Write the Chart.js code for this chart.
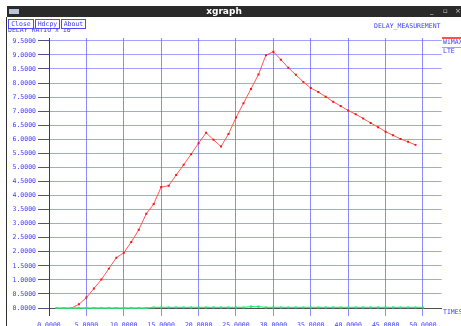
<!DOCTYPE html>
<html>
<head>
<meta charset="utf-8">
<script src="https://cdn.jsdelivr.net/npm/chart.js@4.4.1/dist/chart.umd.min.js"></script>
<style>
  html, body { margin: 0; padding: 0; background: #ffffff; width: 461px; height: 326px; overflow: hidden; }
  #wrap { position: relative; width: 461px; height: 326px; }
  #c { position: absolute; left: 0; top: 0; }
  .abs { position: absolute; white-space: nowrap; }
  .mono { font-family: "DejaVu Sans Mono", monospace; font-size: 6.5px; line-height: 7px; color: #3c3cff; }
  #titlebar { left: 7px; top: 6px; width: 454px; height: 11px; background: #2a2a2a; }
  #titletext { left: 0; width: 454px; top: 0; height: 11px; text-align: center; color: #ffffff;
               font-family: "DejaVu Sans", sans-serif; font-weight: bold; font-size: 9px; line-height: 11px; padding-right: 20px; box-sizing: border-box; }
  #icon { left: 2px; top: 3px; width: 10px; height: 5px; background: #b8c4d8; }
  .ctl { color: #d0d0d0; font-family: "DejaVu Sans", sans-serif; font-size: 7px; line-height: 11px; top: 0; }
  #leftborder { left: 6px; top: 17px; width: 1px; height: 309px; background: #303030; }
  .btn { top: 19px; height: 10px; border: 1px solid #4a4aff; background: #ffffff; box-sizing: border-box;
         text-align: center; z-index: 3; }
  .btn span { display: block; line-height: 8px; }
</style>
</head>
<body>
<div id="wrap">
  <canvas id="c" width="461" height="326"></canvas>
  <div id="leftborder" class="abs"></div>
  <div id="titlebar" class="abs">
    <div id="icon" class="abs"></div>
    <div id="titletext" class="abs">xgraph</div>
    <div class="abs ctl" style="left:423px;">_</div>
    <div class="abs ctl" style="left:436px;">▫</div>
    <div class="abs ctl" style="left:448px;">×</div>
  </div>
  <div class="abs mono" style="left:8px; top:27px; z-index:1;">DELAY RATIO x 10^</div>
  <div class="abs btn mono" style="left:8px; width:26px;"><span>Close</span></div>
  <div class="abs btn mono" style="left:35px; width:25px;"><span>Hdcpy</span></div>
  <div class="abs btn mono" style="left:61px; width:25px;"><span>About</span></div>
  <div class="abs mono" style="left:374px; top:23px;">DELAY_MEASUREMENT</div>
  <div class="abs" style="left:442px; top:37px; width:19px; height:2px; background:#ff5050;"></div>
  <div class="abs mono" style="left:443px; top:39px;">WiMAX</div>
  <div class="abs" style="left:442px; top:47px; width:19px; height:1px; background:#30f080;"></div>
  <div class="abs mono" style="left:443px; top:48px;">LTE</div>
  <div class="abs mono" style="left:443px; top:309px;">TIMES</div>
</div>
<script>
// ---- data ----
const wimaxX = [3,4,5,6,7,8,9,10,11,12,13,14,15,16,17,18,19,20,21,22,23,24,25,26,27,28,29,30,31,32,33,34,35,36,37,38,39,40,41,42,43,44,45,46,47,48,49];
const wimaxY = [0,0.13,0.37,0.69,1.01,1.40,1.79,1.96,2.35,2.78,3.35,3.70,4.30,4.35,4.73,5.09,5.47,5.86,6.23,5.98,5.74,6.19,6.77,7.28,7.79,8.30,8.99,9.11,8.83,8.54,8.29,8.04,7.82,7.68,7.51,7.33,7.18,7.02,6.89,6.74,6.58,6.43,6.27,6.14,6.01,5.91,5.80];
const lteX = [1,2,3,4,5,6,7,8,9,10,11,12,13,14,15,16,17,18,19,20,21,22,23,24,25,26,27,28,29,30,31,32,33,34,35,36,37,38,39,40,41,42,43,44,45,46,47,48,49,50];
const lteY = [0,0,0,0,0,0,0,0,0,0,0,0,0,0.02,0.02,0.02,0.02,0.02,0.02,0.02,0.02,0.02,0.02,0.02,0.02,0.02,0.05,0.05,0.02,0.02,0.02,0.02,0.02,0.02,0.02,0.02,0.02,0.02,0.02,0.02,0.02,0.02,0.02,0.02,0.02,0.02,0.02,0.02,0.02,0.02];
const seriesNames = ["WiMAX", "LTE"];
const xTickValues = [0,5,10,15,20,25,30,35,40,45,50];
const yTickValues = [0,0.5,1,1.5,2,2.5,3,3.5,4,4.5,5,5.5,6,6.5,7,7.5,8,8.5,9,9.5];

const toPts = (xs, ys) => xs.map((x, i) => ({ x: x, y: ys[i] }));
const monoFont = { family: "DejaVu Sans Mono", size: 6.5 };
const blue = "#3c3cff";

new Chart(document.getElementById("c"), {
  type: "line",
  data: {
    datasets: [
      {
        label: seriesNames[1], data: toPts(lteX, lteY), clip: 6,
        borderColor: "#30f080", borderWidth: 1.3, backgroundColor: "#20e868",
        pointStyle: "rect", pointRadius: 1.5, pointBorderWidth: 0, tension: 0
      },
      {
        label: seriesNames[0], data: toPts(wimaxX, wimaxY), clip: 6,
        borderColor: "rgba(255,70,70,0.9)", borderWidth: 1, backgroundColor: "#ff1010",
        pointStyle: "rect", pointRadius: 1.4, pointBorderWidth: 0, tension: 0
      }
    ]
  },
  options: {
    responsive: false, animation: false,
    layout: { padding: { left: 0, right: 19.3, top: 38, bottom: 0 } },
    plugins: { legend: { display: false }, tooltip: { enabled: false }, title: { display: false } },
    scales: {
      x: {
        type: "linear", min: 0, max: 52.5,
        afterFit: s => { s.height = 18; },
        afterBuildTicks: s => { s.ticks = xTickValues.map(v => ({ value: v })); },
        ticks: { autoSkip: false, maxRotation: 0, padding: 5, color: blue, font: monoFont,
                 callback: v => Number(v).toFixed(4) },
        grid: { color: "rgba(110,110,255,0.8)", lineWidth: 1, tickLength: 8,
                tickColor: ctx => (ctx.tick && ctx.tick.value === 0) ? "#404040" : "rgba(110,110,255,0.8)" },
        border: { display: true, color: "#505050", width: 1 }
      },
      y: {
        type: "linear", min: 0, max: 9.6,
        afterFit: s => { s.width = 49; },
        afterBuildTicks: s => { s.ticks = yTickValues.map(v => ({ value: v })); },
        ticks: { autoSkip: false, padding: 2, color: blue, font: monoFont,
                 callback: v => Number(v).toFixed(4) },
        grid: { color: "rgba(110,110,255,0.65)", lineWidth: 1, borderDash: [4, 2], tickLength: 11,
                tickColor: "#50508a", tickBorderDash: [] },
        border: { display: true, color: "#404040", width: 1 }
      }
    }
  }
});
</script>
</body>
</html>
